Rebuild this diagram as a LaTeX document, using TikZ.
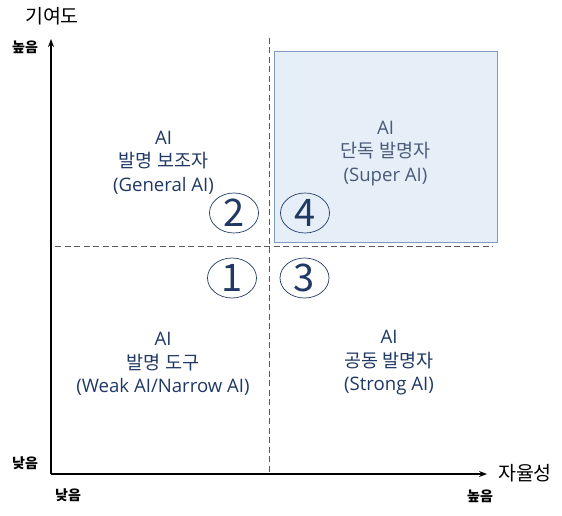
\documentclass[tikz,border=0pt]{standalone}
\usepackage{fontspec}
\setmainfont{Noto Sans CJK KR}
\newfontfamily\latinfont{Open Sans}
\usetikzlibrary{arrows.meta,shapes.geometric}
\definecolor{navy}{HTML}{1F3864}
\definecolor{boxtext}{HTML}{4A5A78}
\definecolor{boxfill}{HTML}{E6EFF8}
\definecolor{boxline}{HTML}{7E9CC0}
\definecolor{dashgray}{HTML}{5A5A5A}
\newcommand{\lt}[1]{{\latinfont\fontsize{18.6}{23.5}\selectfont #1}}
\tikzset{
  quad/.style={align=center, text=navy, font=\fontsize{18.5}{23.5}\selectfont, inner sep=0pt},
  num/.style={draw=navy, line width=0.7pt, shape=ellipse, text=navy, font=\fontsize{38}{38}\selectfont, minimum width=49pt, minimum height=40pt, inner sep=0pt},
  lvl/.style={font=\fontsize{14}{14}\selectfont\bfseries, inner sep=0pt},
  axlab/.style={font=\fontsize{19.5}{19.5}\selectfont, inner sep=0pt},
  axis/.style={line width=1.4pt, -{Stealth[length=8pt,width=6pt]}},
  guide/.style={draw=dashgray, line width=0.9pt, dash pattern=on 6pt off 3.5pt}
}
\begin{document}
\begin{tikzpicture}[x=1pt,y=-1pt]
\useasboundingbox (0,0) rectangle (562,516);
% box
\node[draw=boxline, fill=boxfill, line width=0.9pt, minimum width=223pt, minimum height=191pt, inner sep=0pt] (box) at (385.5,146.5) {};
% guides
\coordinate (vtop) at (269.5,38);
\coordinate (vbot) at (269.5,474);
\coordinate (hl) at (55,246);
\coordinate (hr) at (493,246);
\draw[guide] (vtop) -- (vbot);
\draw[guide] (hl) -- (hr);
% axes
\coordinate (o) at (51,474);
\coordinate (ytop) at (51,39);
\coordinate (xend) at (487,474);
\draw[axis] (o) -- (ytop);
\draw[axis] (o) -- (xend);
% axis labels
\node[axlab] (ylab) at (52,16) {기여도};
\node[axlab] (xlab) at (525,473) {자율성};
\node[lvl] (yhi) at (25,47) {높음};
\node[lvl] (ylo) at (25,463) {낮음};
\node[lvl] (xlo) at (68,495) {낮음};
\node[lvl] (xhi) at (480,496) {높음};
% quadrant texts
\node[quad] (q2) at (163.5,162.5) {\lt{AI}\\발명 보조자\\\lt{(General AI)}};
\node[quad, text=boxtext] (q4) at (385.5,153.5) {\lt{AI}\\단독 발명자\\\lt{(Super AI)}};
\node[quad] (q1) at (163,364) {\lt{AI}\\발명 도구\\\lt{(Weak AI/Narrow AI)}};
\node[quad] (q3) at (389,363) {\lt{AI}\\공동 발명자\\\lt{(Strong AI)}};
% numbers
\node[num] (n2) at (234,213) {2};
\node[num] (n4) at (305,213) {4};
\node[num] (n1) at (232,278) {1};
\node[num] (n3) at (304.5,278) {3};
\end{tikzpicture}
\end{document}
